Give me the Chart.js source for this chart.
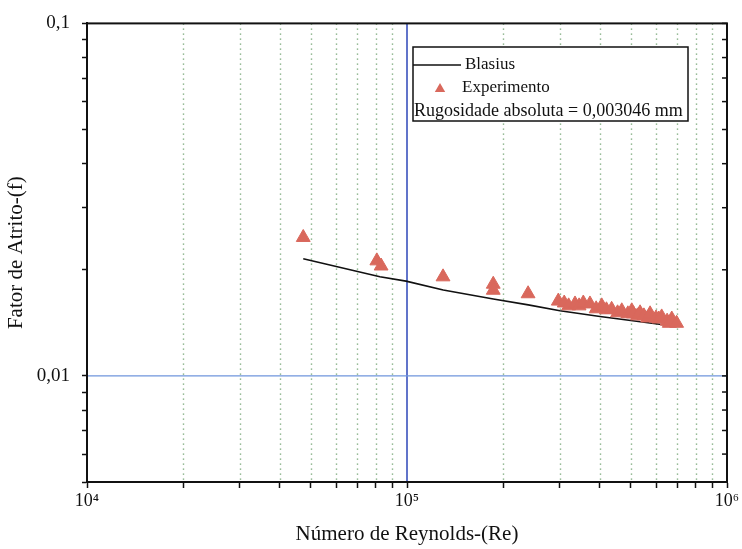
<!DOCTYPE html>
<html>
<head>
<meta charset="utf-8">
<script src="https://cdn.jsdelivr.net/npm/chart.js@4.4.1/dist/chart.umd.min.js"></script>
<style>
  html, body { margin: 0; padding: 0; background: #fff; }
  #wrap { width: 742px; height: 549px; position: relative; }
</style>
</head>
<body>
<div id="wrap"><canvas id="c" width="742" height="549"></canvas></div>
<script>
// ---- data ----
const reynoldsExp = [47400, 80500, 83000, 129600, 186000, 186000, 239000,
  297000, 310000, 320000, 335000, 345000, 355600, 373000, 390000, 406000, 420000, 436000,
  455000, 469000, 490000, 504000, 510000, 525000, 535000, 550000, 565000, 575000,
  600000, 612000, 625000, 650000, 660000, 672000, 696000];
const fatorExp = [0.0247, 0.0212, 0.0205, 0.0191, 0.0182, 0.0175, 0.0171,
  0.0163, 0.0161, 0.0158, 0.0160, 0.0158, 0.0161, 0.0160, 0.0155, 0.0158, 0.0154, 0.01545,
  0.0151, 0.0153, 0.0150, 0.0153, 0.0150, 0.0148, 0.0151, 0.0148, 0.0146, 0.0150,
  0.0146, 0.0145, 0.0147, 0.0143, 0.0141, 0.0145, 0.0141];

const reynoldsBlasius = [47400, 82300, 99300, 129800, 186100, 239300, 300600, 401000, 697000];
const fatorBlasius = [0.0215, 0.0191, 0.01857, 0.01752, 0.01653, 0.0159, 0.0153, 0.01474, 0.01381];

const xTickValues = [1e4, 2e4, 3e4, 4e4, 5e4, 6e4, 7e4, 8e4, 9e4, 1e5, 2e5, 3e5, 4e5, 5e5, 6e5, 7e5, 8e5, 9e5, 1e6];
const xTickLabels = {10000: '10\u2074', 100000: '10\u2075', 1000000: '10\u2076'};
const yTickValues = [0.005, 0.006, 0.007, 0.008, 0.009, 0.01, 0.02, 0.03, 0.04, 0.05, 0.06, 0.07, 0.08, 0.09, 0.1];
const yTickLabels = {0.01: '0,01', 0.1: '0,1'};
const xMinorGrid = [2e4, 3e4, 4e4, 5e4, 6e4, 7e4, 8e4, 9e4, 2e5, 3e5, 4e5, 5e5, 6e5, 7e5, 8e5, 9e5];

const legendLabels = ['Blasius', 'Experimento', 'Rugosidade absoluta = 0,003046 mm'];

const SERIF = '"Liberation Serif", "Times New Roman", serif';
const TRI_COLOR = '#d9685c';

const toPoints = (xs, ys) => xs.map((x, i) => ({x: x, y: ys[i]}));

const gridPlugin = {
  id: 'gridPlugin',
  beforeDatasetsDraw(chart) {
    const {ctx, chartArea: a, scales: {x, y}} = chart;
    ctx.save();
    // dotted minor vertical grid
    ctx.strokeStyle = 'rgba(95,150,95,0.85)';
    ctx.lineWidth = 1.4;
    ctx.setLineDash([1.4, 3.6]);
    xMinorGrid.forEach(v => {
      const px = Math.round(x.getPixelForValue(v)) + 0.5;
      ctx.beginPath(); ctx.moveTo(px, a.top); ctx.lineTo(px, a.bottom); ctx.stroke();
    });
    ctx.setLineDash([]);
    // major lines
    ctx.strokeStyle = '#2c46b8';
    ctx.lineWidth = 1.5;
    const px5 = x.getPixelForValue(1e5);
    ctx.beginPath(); ctx.moveTo(px5, a.top); ctx.lineTo(px5, a.bottom); ctx.stroke();
    ctx.strokeStyle = '#6f95dc';
    ctx.lineWidth = 1.2;
    const py = y.getPixelForValue(0.01);
    ctx.beginPath(); ctx.moveTo(a.left, py); ctx.lineTo(a.right, py); ctx.stroke();
    ctx.restore();
  },
  afterDatasetsDraw(chart) {
    const {ctx, chartArea: a, scales: {y}} = chart;
    ctx.save();
    // frame
    ctx.strokeStyle = '#111';
    ctx.lineWidth = 2;
    ctx.strokeRect(a.left, a.top, a.right - a.left, a.bottom - a.top);
    // inward ticks on right axis
    ctx.lineWidth = 1.5;
    yTickValues.forEach(v => {
      const p = y.getPixelForValue(v);
      ctx.beginPath(); ctx.moveTo(a.right, p); ctx.lineTo(a.right - 5, p); ctx.stroke();
    });
    // legend box
    const lx = 413, ly = 47, lw = 275, lh = 74;
    ctx.fillStyle = '#fff';
    ctx.fillRect(lx, ly, lw, lh);
    ctx.strokeStyle = '#111';
    ctx.lineWidth = 1.5;
    ctx.strokeRect(lx, ly, lw, lh);
    ctx.fillStyle = '#111';
    ctx.font = '17px ' + SERIF;
    ctx.textBaseline = 'middle';
    ctx.lineWidth = 1.3;
    ctx.beginPath(); ctx.moveTo(lx, 65); ctx.lineTo(lx + 48, 65); ctx.stroke();
    ctx.fillText(legendLabels[0], 465, 65);
    // triangle marker
    const r = 6, cx = 440, cy = 89;
    ctx.fillStyle = TRI_COLOR;
    ctx.beginPath();
    for (let k = 0; k < 3; k++) {
      const ang = k * 2 * Math.PI / 3;
      const px = cx + Math.sin(ang) * r, pyy = cy - Math.cos(ang) * r;
      if (k === 0) ctx.moveTo(px, pyy); else ctx.lineTo(px, pyy);
    }
    ctx.closePath(); ctx.fill();
    ctx.fillStyle = '#111';
    ctx.fillText(legendLabels[1], 462, 88);
    ctx.font = '18px ' + SERIF;
    ctx.fillText(legendLabels[2], lx + 1, 111);
    ctx.restore();
  }
};

new Chart(document.getElementById('c'), {
  type: 'scatter',
  data: {
    datasets: [
      {
        label: 'Blasius',
        data: toPoints(reynoldsBlasius, fatorBlasius),
        showLine: true,
        borderColor: '#111',
        borderWidth: 1.6,
        pointRadius: 0,
        fill: false,
        order: 2
      },
      {
        label: 'Experimento',
        data: toPoints(reynoldsExp, fatorExp),
        pointStyle: 'triangle',
        pointRadius: 8,
        backgroundColor: TRI_COLOR,
        borderColor: TRI_COLOR,
        borderWidth: 1,
        order: 1
      }
    ]
  },
  options: {
    responsive: false,
    animation: false,
    devicePixelRatio: 1,
    layout: {padding: {top: 19, right: 15, left: 0, bottom: 0}},
    plugins: {legend: {display: false}, tooltip: {enabled: false}},
    scales: {
      x: {
        type: 'logarithmic',
        min: 1e4, max: 1e6,
        afterBuildTicks: s => { s.ticks = xTickValues.map(v => ({value: v})); },
        afterFit: s => { s.height = 67; },
        grid: {drawOnChartArea: false, drawTicks: true, tickLength: 6, tickColor: '#111', tickWidth: 1.5},
        border: {display: true, color: '#111', width: 2},
        ticks: {
          autoSkip: false, maxRotation: 0, padding: 2,
          color: '#111',
          font: {family: SERIF, size: 18},
          callback: v => xTickLabels[v] || ''
        },
        title: {
          display: true, text: 'Número de Reynolds-(Re)', color: '#111',
          font: {family: SERIF, size: 21}, padding: {top: 0, bottom: 2}
        }
      },
      y: {
        type: 'logarithmic',
        min: 0.005, max: 0.1,
        afterBuildTicks: s => { s.ticks = yTickValues.map(v => ({value: v})); },
        afterFit: s => { s.width = 87; },
        grid: {drawOnChartArea: false, drawTicks: true, tickLength: 5, tickColor: '#111', tickWidth: 1.5},
        border: {display: true, color: '#111', width: 2},
        ticks: {
          autoSkip: false, padding: 12,
          color: '#111',
          font: {family: SERIF, size: 19},
          callback: v => yTickLabels[v] || ''
        },
        title: {
          display: true, text: 'Fator de Atrito-(f)', color: '#111',
          font: {family: SERIF, size: 21}, padding: {top: 4, bottom: 0}
        }
      }
    }
  },
  plugins: [gridPlugin]
});
</script>
</body>
</html>
